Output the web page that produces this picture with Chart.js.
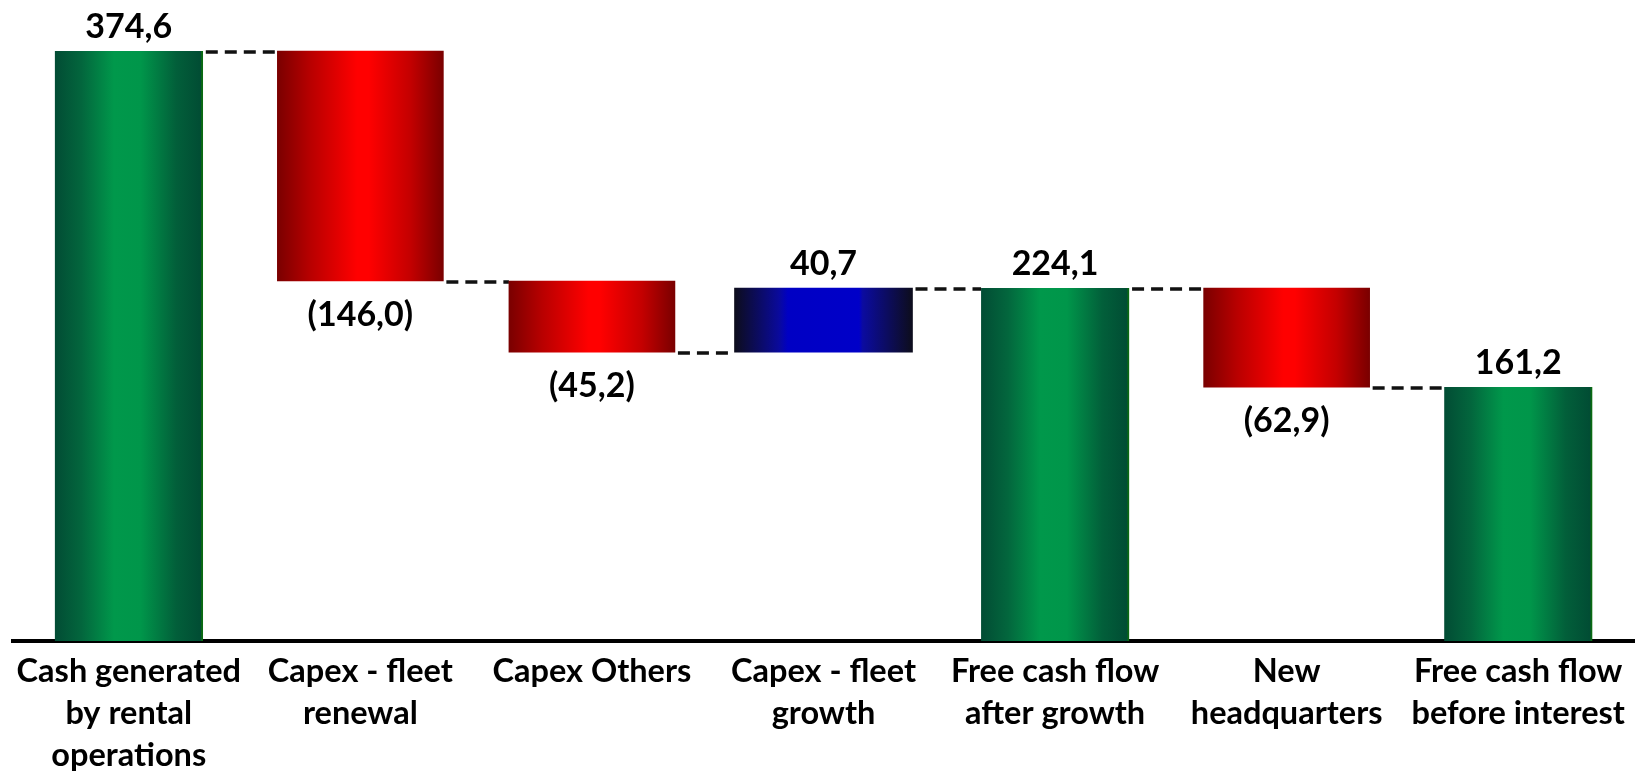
<!DOCTYPE html>
<html>
<head>
<meta charset="utf-8">
<title>Free cash flow bridge</title>
<script src="https://cdn.jsdelivr.net/npm/chart.js@4.4.1/dist/chart.umd.min.js"></script>
<style>
  html, body { margin: 0; padding: 0; background: #fff; }
  #wrap { position: relative; width: 1639px; height: 774px; }
</style>
</head>
<body>
<div id="wrap"><canvas id="bridgeChart"></canvas></div>
<script>
// Catégories et valeurs du pont de trésorerie (M€)
const categories = [
  ['Cash generated', 'by rental', 'operations'],
  ['Capex - fleet', 'renewal'],
  'Capex Others',
  ['Capex - fleet', 'growth'],
  ['Free cash flow', 'after growth'],
  ['New', 'headquarters'],
  ['Free cash flow', 'before interest']
];
const steps   = [374.6, -146.0, -45.2, 40.7, 224.1, -62.9, 161.2];
const isTotal = [true, false, false, false, true, false, true];

// Bornes des barres flottantes + niveau atteint après chaque étape
let running = 0;
const ranges = [];
const levels = [];
steps.forEach((v, i) => {
  if (isTotal[i]) {
    ranges.push([0, v]);
    running = v;
  } else {
    ranges.push([running, running + v]);
    running += v;
  }
  levels.push(running);
});

const totalsData    = ranges.map((r, i) => isTotal[i] ? r : null);
const decreasesData = ranges.map((r, i) => !isTotal[i] && steps[i] < 0 ? r : null);
const increasesData = ranges.map((r, i) => !isTotal[i] && steps[i] > 0 ? r : null);

// Dégradé horizontal "cylindre" pour chaque barre
function cylinder(stops, thickness) {
  const flat = stops[Math.floor(stops.length / 2)][1];
  return (ctx) => {
    const chart = ctx.chart;
    const xs = chart.scales && chart.scales.x;
    if (!xs || ctx.dataIndex === undefined) return flat;
    const c = xs.getPixelForValue(ctx.dataIndex);
    if (!Number.isFinite(c)) return flat;
    const g = chart.ctx.createLinearGradient(c - thickness / 2, 0, c + thickness / 2, 0);
    stops.forEach(([p, col]) => g.addColorStop(p, col));
    return g;
  };
}

const greenStops = [[0, '#024c34'], [0.18, '#03663d'], [0.4, '#00984b'], [0.58, '#00964a'], [0.82, '#025f3a'], [1, '#014b33']];
const redStops   = [[0, '#7a0000'], [0.2, '#b80000'], [0.48, '#ff0000'], [0.55, '#ff0000'], [0.8, '#c40000'], [1, '#7a0000']];
const blueStops  = [[0, '#0d0d1c'], [0.25, '#0a0a9c'], [0.3, '#0000c4'], [0.7, '#0000c8'], [0.72, '#0b0ba0'], [1, '#0d0d1c']];

const W_TOTAL = 148, W_DOWN = 166, W_UP = 178;

// Format "374,6" / "(146,0)"
const fmt = v => {
  const s = Math.abs(v).toFixed(1).replace('.', ',');
  return v < 0 ? `(${s})` : s;
};

// Barre affichée pour une catégorie donnée
function barAt(chart, i) {
  for (let d = 0; d < chart.data.datasets.length; d++) {
    if (chart.data.datasets[d].data[i] !== null) return chart.getDatasetMeta(d).data[i];
  }
}

// Pointillés entre barres successives
const connectors = {
  id: 'connectors',
  beforeDatasetsDraw(chart) {
    const { ctx } = chart;
    const y = chart.scales.y;
    ctx.save();
    ctx.strokeStyle = '#111';
    ctx.lineWidth = 3.5;
    ctx.setLineDash([12, 7]);
    for (let i = 0; i < categories.length - 1; i++) {
      const a = barAt(chart, i), b = barAt(chart, i + 1);
      const py = Math.round(y.getPixelForValue(levels[i])) + 1;
      ctx.beginPath();
      ctx.moveTo(a.x + a.width / 2 + 3, py);
      ctx.lineTo(b.x - b.width / 2, py);
      ctx.stroke();
    }
    ctx.restore();
  }
};

// Valeurs au-dessus / en dessous des barres
const valueLabels = {
  id: 'valueLabels',
  afterDatasetsDraw(chart) {
    const { ctx } = chart;
    ctx.save();
    ctx.font = 'bold 34px Lato, "Liberation Sans", sans-serif';
    ctx.fillStyle = '#000';
    ctx.textAlign = 'center';
    ctx.textBaseline = 'middle';
    categories.forEach((_, i) => {
      const el = barAt(chart, i);
      const top = Math.min(el.y, el.base);
      const bottom = Math.max(el.y, el.base);
      if (steps[i] < 0) ctx.fillText(fmt(steps[i]), el.x, bottom + 34);
      else ctx.fillText(fmt(steps[i]), el.x, top - 24);
    });
    ctx.restore();
  }
};

Chart.defaults.font.family = 'Lato, "Liberation Sans", sans-serif';

new Chart(document.getElementById('bridgeChart'), {
  type: 'bar',
  data: {
    labels: categories,
    datasets: [
      {
        label: 'Totals',
        data: totalsData,
        backgroundColor: cylinder(greenStops, W_TOTAL),
        borderColor: '#0a6a12',
        borderWidth: { top: 0, left: 0, bottom: 0, right: 2 },
        borderSkipped: false,
        barThickness: W_TOTAL,
        grouped: false
      },
      {
        label: 'Decreases',
        data: decreasesData,
        backgroundColor: cylinder(redStops, W_DOWN),
        barThickness: W_DOWN,
        grouped: false
      },
      {
        label: 'Increases',
        data: increasesData,
        backgroundColor: cylinder(blueStops, W_UP),
        barThickness: W_UP,
        grouped: false
      }
    ]
  },
  options: {
    responsive: true,
    maintainAspectRatio: false,
    animation: false,
    layout: { padding: { top: 11, left: 13, right: 5, bottom: 0 } },
    plugins: {
      legend: { display: false },
      tooltip: { enabled: false }
    },
    scales: {
      x: {
        grid: { display: false },
        border: { display: true, color: '#000', width: 4 },
        ticks: {
          color: '#000',
          maxRotation: 0,
          autoSkip: false,
          padding: 1,
          font: { size: 32.5, weight: 'bold', lineHeight: 1.3 }
        },
        afterFit(scale) { scale.height = 133; }
      },
      y: {
        display: false,
        min: 0,
        max: 400
      }
    }
  },
  plugins: [connectors, valueLabels]
});
</script>
</body>
</html>
